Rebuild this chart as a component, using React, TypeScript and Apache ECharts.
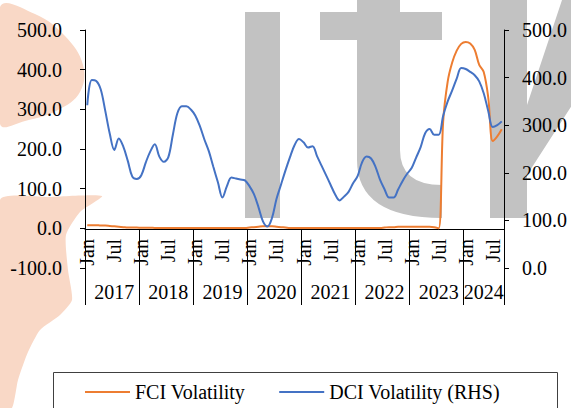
import React, { useEffect, useRef } from "react";
import * as echarts from "echarts";

const years = ["2017", "2018", "2019", "2020", "2021", "2022", "2023", "2024"];
const monthsInYear = [12, 12, 12, 12, 12, 12, 12, 9];

const fciVolatility = [
  8, 8, 8, 7, 7, 6, 5, 4, 3, 2, 2, 2,
  1.5, 1.5, 1.5, 1, 1, 1, 1, 1, 1, 1, 1, 1,
  1, 1, 1, 1, 1, 1, 1, 1, 1, 1, 1, 1,
  2, 3, 4, 5, 5, 5, 4, 3, 2, 1, 1, 1,
  1, 1, 1, 1, 1, 1, 1, 1, 1, 1, 1, 1,
  1, 1, 1, 1, 1, 1, 2, 3, 3, 4, 4, 4,
  4, 4, 4, 4, 4, 3, 0, 270, 370, 418, 448, 465,
  470, 466, 450, 412, 394, 330, 220, 232, 250,
];

const dciVolatility = [
  342, 395, 393, 375, 330, 282, 248, 272, 255, 225, 192, 187,
  195, 222, 245, 260, 234, 223, 233, 280, 325, 340, 340, 333,
  320, 298, 270, 245, 212, 180, 148, 172, 190, 188, 186, 184,
  172, 155, 128, 98, 87, 105, 145, 175, 205, 233, 258, 271,
  264, 253, 256, 235, 215, 195, 175, 155, 142, 150, 160, 178,
  193, 222, 234, 230, 212, 185, 165, 148, 148, 165, 183, 198,
  210, 232, 254, 283, 292, 280, 280, 320, 350, 373, 398, 420,
  418, 412, 405, 392, 367, 330, 296, 300, 308,
];

const leftAxis = { min: -100, max: 500, interval: 100 };
const rightAxis = { min: 0, max: 500, interval: 100 };
const monthNames: Record<number, string> = { 1: "Jan", 7: "Jul" };

const categories: string[] = [];
const yearStart: number[] = [];
years.forEach((y, k) => {
  yearStart.push(categories.length);
  for (let m = 0; m < monthsInYear[k]; m++) {
    categories.push(y + "-" + String(m + 1).padStart(2, "0"));
  }
});
const yearLabelIndex = new Set<number>(
  years.map((_, k) => yearStart[k] + Math.floor(monthsInYear[k] / 2))
);

const FONT = "'Liberation Serif', 'Times New Roman', serif";
const WM = "#c2c2c2";
const PEACH = "#f9d8c6";

const watermarkPath =
  "M245,12 H280 V218 H245 Z " +
  "M320,12 H442 V40 H320 Z " +
  "M357,0 H400 V150 Q400,185 442,185 V218 Q357,218 357,160 Z " +
  "M490,0 H527 V218 H490 Z " +
  "M527,105 L562,0 L640,0 L527,175 Z";

let registered = false;
function registerShapes() {
  if (registered) return;
  echarts.graphic.registerShape("wmark", echarts.graphic.extendPath(watermarkPath, {}) as any);
  registered = true;
}

export default function App() {
  const ref = useRef<HTMLDivElement>(null);
  useEffect(() => {
    if (!ref.current) return;
    registerShapes();
    const chart = echarts.init(ref.current, undefined, { renderer: "svg" });
    const axisLineStyle = { color: "#000", width: 1 };
    const labelStyle = { color: "#000", fontSize: 20, fontFamily: FONT };
    chart.setOption({
      animation: false,
      grid: { left: 85, right: 67, top: 30, bottom: 140, outerBoundsMode: "none", containLabel: false },
      graphic: [
        {
          type: "polygon",
          z: -10,
          shape: {
            smooth: 0.4,
            points: [[0, 7], [35, 14], [65, 36], [83, 65], [80, 92], [58, 110], [25, 121], [0, 124]],
          },
          style: { fill: PEACH },
        },
        {
          type: "polygon",
          z: -10,
          shape: {
            smooth: 0.2,
            points: [[0, 200], [50, 197], [102, 196], [80, 212], [66, 235], [68, 270], [72, 300], [60, 315], [40, 330], [28, 352], [18, 380], [12, 408], [0, 408]],
          },
          style: { fill: PEACH },
        },
        { type: "wmark", z: -10, x: 0, y: 0, style: { fill: WM } },
        {
          type: "rect",
          z: 10,
          shape: { x: 53.5, y: 372.5, width: 504, height: 60 },
          style: { fill: "#fff", stroke: "#404040", lineWidth: 1 },
        },
      ],
      legend: {
        left: 85,
        top: 382,
        padding: 0,
        z: 20,
        icon: "rect",
        itemWidth: 45,
        itemHeight: 2,
        itemGap: 34,
        textStyle: { color: "#000", fontSize: 20, fontFamily: FONT },
        data: ["FCI Volatility", "DCI Volatility (RHS)"],
      },
      xAxis: [
        {
          type: "category",
          data: categories,
          position: "bottom",
          offset: -39,
          boundaryGap: true,
          axisLine: { show: true, onZero: false, lineStyle: axisLineStyle },
          axisTick: {
            show: true,
            length: 39,
            interval: (i: number) => yearStart.includes(i),
            lineStyle: axisLineStyle,
          },
          axisLabel: {
            ...labelStyle,
            rotate: 90,
            margin: 10,
            interval: (i: number) => monthNames[parseInt(categories[i].slice(5), 10)] !== undefined,
            formatter: (v: string) => monthNames[parseInt(v.slice(5), 10)] || "",
          },
          splitLine: { show: false },
        },
        {
          type: "category",
          data: categories,
          position: "bottom",
          boundaryGap: true,
          axisLine: { show: false, onZero: false },
          axisTick: {
            show: true,
            length: 37,
            interval: (i: number) => yearStart.includes(i),
            lineStyle: axisLineStyle,
          },
          axisLabel: {
            ...labelStyle,
            margin: 14,
            interval: (i: number) => yearLabelIndex.has(i),
            formatter: (v: string) => v.slice(0, 4),
          },
          splitLine: { show: false },
        },
      ],
      yAxis: [
        {
          type: "value",
          position: "left",
          ...leftAxis,
          axisLine: { show: true, lineStyle: axisLineStyle },
          axisTick: { show: true, length: 5, lineStyle: axisLineStyle },
          axisLabel: { ...labelStyle, margin: 23, formatter: (v: number) => v.toFixed(1) },
          splitLine: { show: false },
        },
        {
          type: "value",
          position: "right",
          ...rightAxis,
          axisLine: { show: true, lineStyle: axisLineStyle },
          axisTick: { show: true, length: 5, lineStyle: axisLineStyle },
          axisLabel: { ...labelStyle, margin: 18, formatter: (v: number) => v.toFixed(1) },
          splitLine: { show: false },
        },
      ],
      series: [
        {
          name: "FCI Volatility",
          type: "line",
          xAxisIndex: 0,
          yAxisIndex: 0,
          data: fciVolatility,
          smooth: 0.35,
          symbol: "none",
          lineStyle: { color: "#ED7D31", width: 2 },
          itemStyle: { color: "#ED7D31" },
        },
        {
          name: "DCI Volatility (RHS)",
          type: "line",
          xAxisIndex: 0,
          yAxisIndex: 1,
          data: dciVolatility,
          smooth: 0.35,
          symbol: "none",
          lineStyle: { color: "#4472C4", width: 2 },
          itemStyle: { color: "#4472C4" },
        },
      ],
    });
    return () => chart.dispose();
  }, []);
  return <div ref={ref} style={{ width: 571, height: 408, position: "absolute", left: 0, top: 0 }} />;
}
